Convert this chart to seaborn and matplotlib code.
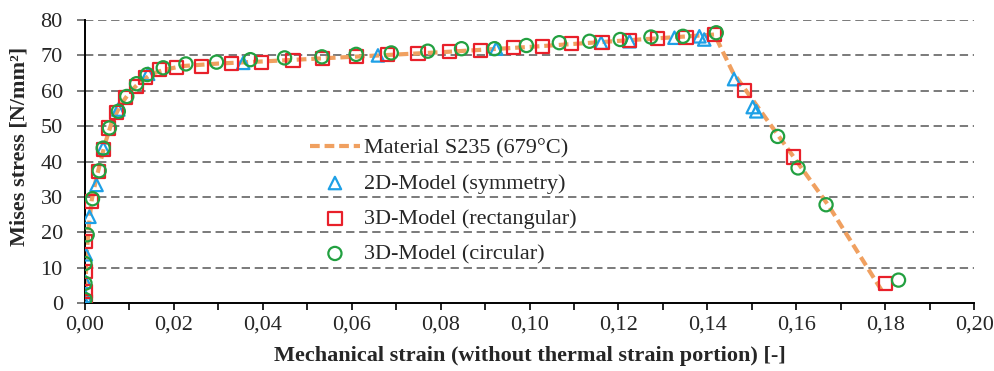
import numpy as np
import pandas as pd
import seaborn as sns
import matplotlib.pyplot as plt
from matplotlib.ticker import MultipleLocator, FuncFormatter

# material curve S235 at 679 C
mat_strain = [0, 0.0003, 0.0008, 0.0015, 0.0025, 0.0035, 0.0045, 0.006, 0.008, 0.010, 0.012,
              0.015, 0.018, 0.022, 0.03, 0.04, 0.06, 0.08, 0.10, 0.12, 0.1416, 0.1457, 0.1674, 0.1794]
mat_stress = [0, 12, 21, 29, 35, 40, 45, 51, 56, 59.5, 62,
              64.8, 66, 67, 67.7, 68.3, 69.6, 70.9, 72.4, 74.1, 75.9, 65.3, 27.3, 3.2]

# 2D-Model (symmetry)
tri_strain = [0, 0, 0.0001, 0.0002, 0.001, 0.0026, 0.0041, 0.0075, 0.0142, 0.0356, 0.0659,
              0.0925, 0.1161, 0.1225, 0.1326, 0.1382, 0.1393, 0.146, 0.1502, 0.151]
tri_stress = [0, 2, 6, 13.8, 24.4, 33.4, 43.8, 54.7, 64.8, 67.9, 70.0,
              71.9, 73.6, 74.0, 75.0, 75.4, 74.5, 63.3, 55.4, 54.2]

# 3D-Model (rectangular)
sq_strain = [0, 0, 0.0002, 0.0002, 0.0015, 0.003, 0.0041, 0.0052, 0.0071, 0.0092, 0.0115,
             0.0137, 0.0167, 0.0206, 0.0263, 0.0329, 0.0397, 0.0468, 0.0535, 0.0610, 0.0681,
             0.0749, 0.0820, 0.0890, 0.0963, 0.1030, 0.1094, 0.1163, 0.1225, 0.1288, 0.1352,
             0.1416, 0.1483, 0.1594, 0.1801]
sq_stress = [0.5, 3.2, 8.9, 17.4, 28.7, 37.2, 43.3, 49.5, 53.9, 58.2, 61.3,
             63.8, 66.0, 66.7, 66.9, 67.7, 68.1, 68.6, 69.1, 69.6, 70.3,
             70.6, 71.0, 71.5, 72.2, 72.6, 73.4, 73.7, 74.3, 74.7, 75.0,
             75.9, 60.1, 41.3, 5.6]

# 3D-Model (circular)
circ_strain = [0, 0, 0, 0.0005, 0.0017, 0.0032, 0.0041, 0.0055, 0.0075, 0.0094, 0.0116,
               0.014, 0.0176, 0.0227, 0.0296, 0.0372, 0.0449, 0.0533, 0.0610, 0.0689, 0.0771,
               0.0847, 0.0921, 0.0993, 0.1067, 0.1135, 0.1204, 0.1273, 0.1345, 0.1420,
               0.1558, 0.1604, 0.1667, 0.1830]
circ_stress = [1, 5.6, 11.2, 19.3, 29.5, 37.4, 43.8, 49.5, 54.2, 58.4, 62.0,
               64.6, 66.5, 67.6, 68.1, 68.8, 69.3, 69.6, 70.3, 70.7, 71.2,
               71.9, 71.9, 72.8, 73.6, 74.0, 74.5, 75.2, 75.4, 76.4,
               47.1, 38.2, 27.8, 6.5]

sns.set_style("white")
plt.rcParams['font.family'] = ['Liberation Serif', 'DejaVu Serif']
plt.rcParams['lines.scale_dashes'] = False

fig, ax = plt.subplots(figsize=(9.95, 3.71), dpi=100)
fig.subplots_adjust(left=0.0854, right=0.979, top=0.946, bottom=0.183)

# dashed grey grid (horizontal only)
for yv in range(10, 90, 10):
    ax.axhline(yv, color='#7a7a7a', lw=1.4, ls=(0, (6, 3.4)), zorder=0)

sns.lineplot(x=mat_strain, y=mat_stress, ax=ax, color='#F0A060', lw=3,
             ls=(0, (7, 3.5)), label='Material S235 (679°C)', sort=False, zorder=2)
sns.scatterplot(x=tri_strain, y=tri_stress, ax=ax, marker='^', s=80, facecolors='none',
                edgecolor='#1EA0E6', linewidth=1.6, label='2D-Model (symmetry)', zorder=3)
sns.scatterplot(x=sq_strain, y=sq_stress, ax=ax, marker='s', s=90, facecolors='none',
                edgecolor='#E8202A', linewidth=1.6, label='3D-Model (rectangular)', zorder=3)
sns.scatterplot(x=circ_strain, y=circ_stress, ax=ax, marker='o', s=90, facecolors='none',
                edgecolor='#22A040', linewidth=1.6, label='3D-Model (circular)', zorder=4)

ax.set_xlim(0, 0.20)
ax.set_ylim(0, 80)
ax.xaxis.set_major_locator(MultipleLocator(0.02))
ax.xaxis.set_minor_locator(MultipleLocator(0.01))
ax.yaxis.set_major_locator(MultipleLocator(10))
ax.xaxis.set_major_formatter(FuncFormatter(lambda v, p: f"{v:.2f}".replace('.', ',')))

for s in ['top', 'right']:
    ax.spines[s].set_visible(False)
for s in ['left', 'bottom']:
    ax.spines[s].set_color('black')
    ax.spines[s].set_linewidth(1.4)

ax.tick_params(axis='x', which='both', direction='out', length=5, width=1.2,
               color='black', labelsize=16, pad=4, bottom=True)
ax.tick_params(axis='y', direction='out', length=6, width=1.4, color='#7a7a7a',
               labelsize=16, pad=10, left=True)

ax.set_xlabel('Mechanical strain (without thermal strain portion) [-]',
              fontsize=16, fontweight='bold', labelpad=8)
ax.set_ylabel('Mises stress [N/mm²]', fontsize=16, fontweight='bold')
ax.yaxis.set_label_coords(-0.062, 0.555)

ax.legend(loc='upper left', bbox_to_anchor=(0.253, 0.583), frameon=False, fontsize=16,
          handlelength=2.25, handletextpad=0.2, labelspacing=0.66, borderpad=0,
          borderaxespad=0)

fig.savefig('out.png', dpi=100)
